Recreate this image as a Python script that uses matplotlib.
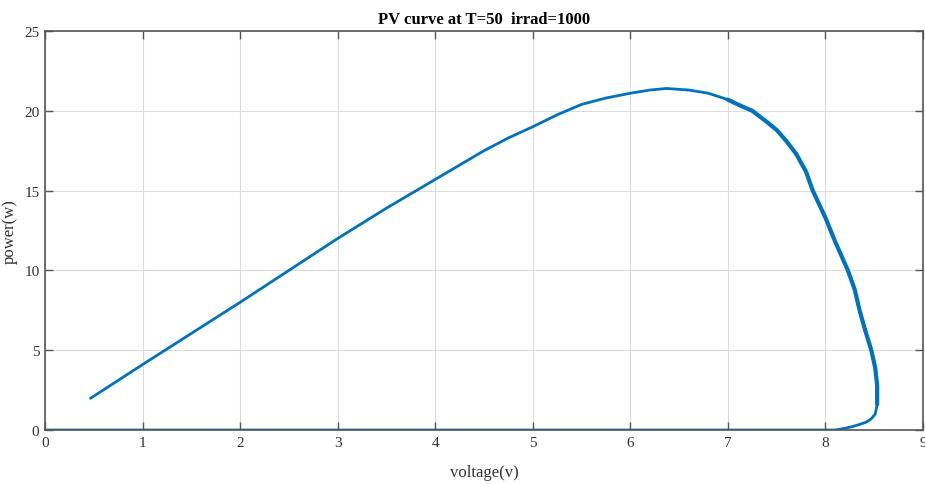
import numpy as np
import matplotlib.pyplot as plt

# PV curve (voltage in V, power in W)
volt = [0.47, 1.0, 2.0, 3.0, 3.5, 4.0, 4.25, 4.5, 4.75, 5.0, 5.25, 5.5, 5.75, 6.0,
        6.2, 6.37, 6.6, 6.8, 7.0, 7.1, 7.25, 7.4, 7.5, 7.6, 7.7, 7.8, 7.87, 8.0,
        8.1, 8.23, 8.3, 8.35, 8.4, 8.47, 8.51, 8.53, 8.53, 8.51, 8.47, 8.42,
        8.35, 8.28, 8.21, 8.15, 8.1, 0.0]
power = [2.0, 4.1, 8.0, 12.0, 13.9, 15.7, 16.6, 17.5, 18.3, 19.0, 19.75, 20.4, 20.8, 21.1,
         21.3, 21.4, 21.3, 21.1, 20.7, 20.4, 20.0, 19.3, 18.8, 18.1, 17.3, 16.2, 15.0, 13.3,
         11.8, 10.0, 8.8, 7.5, 6.4, 5.0, 3.9, 2.8, 1.6, 1.0, 0.7, 0.5,
         0.35, 0.22, 0.12, 0.05, 0.0, 0.0]

xticks = np.arange(0, 10, 1)
yticks = np.arange(0, 30, 5)

plt.rcParams['font.family'] = ['Liberation Serif', 'DejaVu Serif']

fig = plt.figure(figsize=(9.25, 4.85), dpi=100)
ax = fig.add_axes([45 / 925, 54 / 485, 878 / 925, 399 / 485])

blue = '#0072BD'
ax.plot(volt, power, color=blue, lw=2.0, solid_joinstyle='round')
# noisy descending part appears thicker in the original
v = np.array(volt)
p = np.array(power)
m = (v >= 7.0) & (p > 1.0)
ax.plot(v[m], p[m], color=blue, lw=3.0, solid_capstyle='round', solid_joinstyle='round')

ax.set_xlim(0, 9)
ax.set_ylim(0, 25)
ax.set_xticks(xticks)
ax.set_yticks(yticks)
ax.grid(True, color='#dcdcdc', lw=0.8)
ax.set_axisbelow(True)
ax.tick_params(direction='in', top=True, right=True, length=6, width=1,
               color='#555555', labelsize=11, labelcolor='#333333', pad=4)
for s in ax.spines.values():
    s.set_color('#555555')
    s.set_linewidth(1.2)

ax.set_title('PV curve at T=50  irrad=1000', fontsize=12, fontweight='bold', pad=6)
ax.set_xlabel('voltage(v)', fontsize=12, color='#333333')
ax.set_ylabel('power(w)', fontsize=12, color='#333333')
ax.xaxis.set_label_coords(0.5, -0.085)
ax.yaxis.set_label_coords(-0.031, 0.5)

fig.savefig('out.png', dpi=100)
